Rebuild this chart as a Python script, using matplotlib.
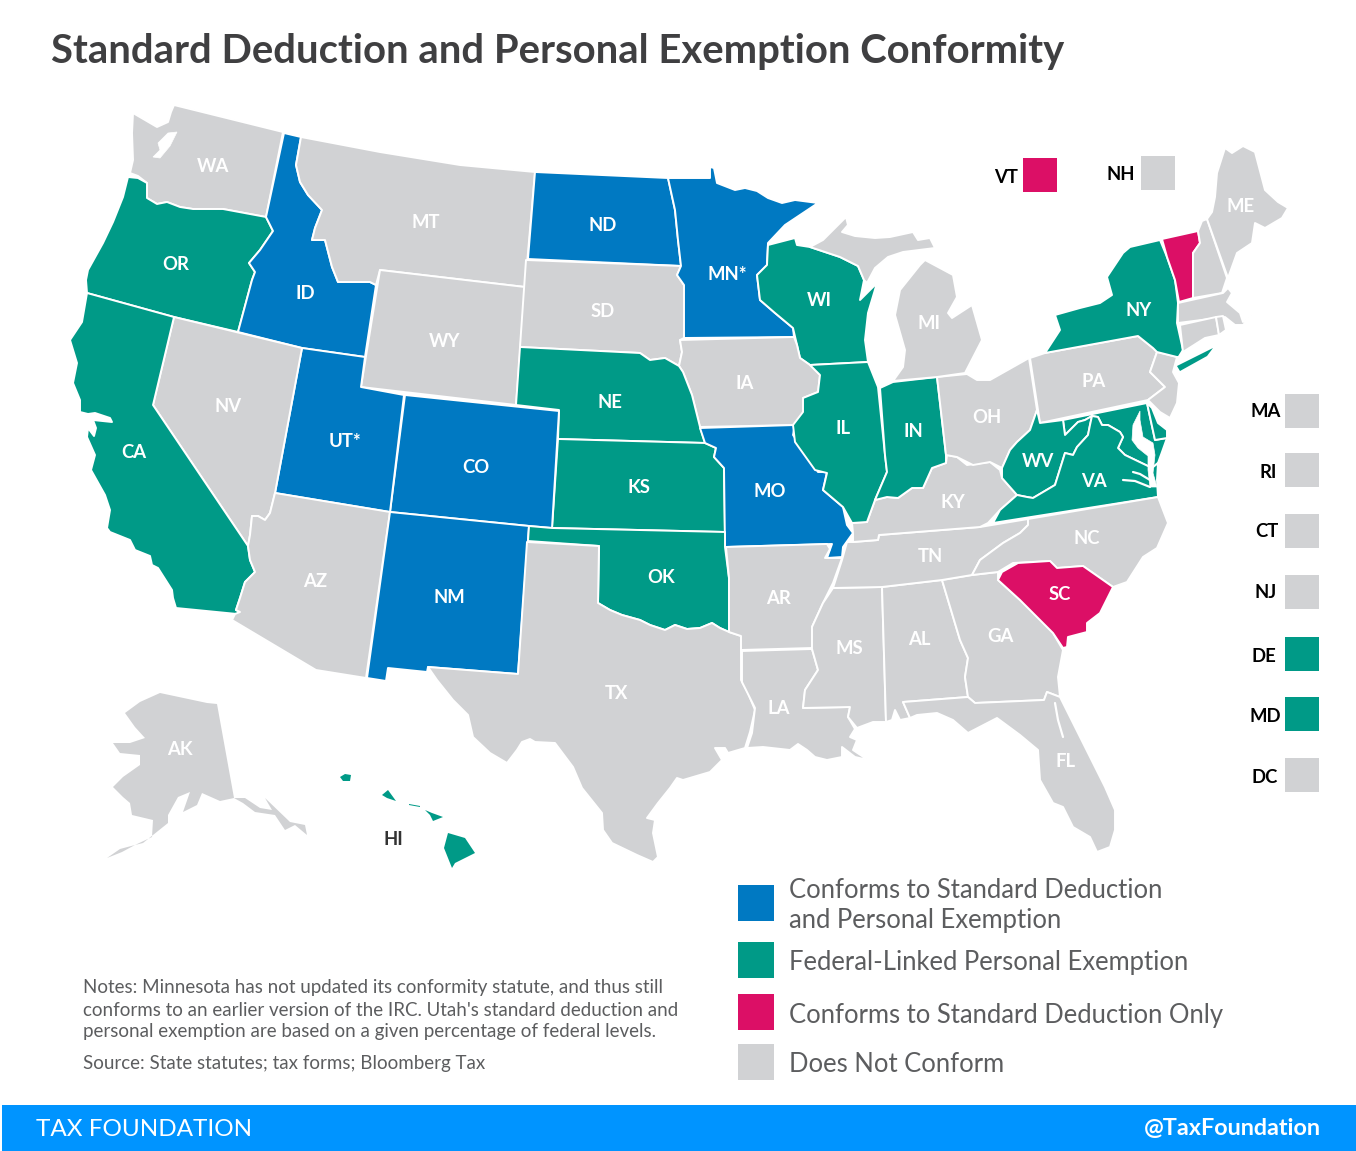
import matplotlib
matplotlib.use("Agg")
import matplotlib.pyplot as plt
from matplotlib.patches import Polygon, Rectangle

plt.rcParams['font.family'] = ['Lato', 'DejaVu Sans']

# ---- colours per category
BLUE = "#0079c2"; TEAL = "#009a87"; PINK = "#dc0f66"; GREY = "#d1d2d4"
TEXT = "#5c5d5f"; TITLE = "#3f3f41"; BANNER = "#0094ff"

# ---- categories
both_states = ["ID", "ND", "MN", "UT", "CO", "NM", "MO"]
personal_states = ["OR", "CA", "WI", "IL", "IN", "NE", "KS", "OK", "NY", "WV", "VA", "DE", "MD", "HI"]
standard_states = ["VT", "SC"]

# ---- state outlines (map pixels)
WA = [(174,105),(283,132),(266,217),(223,209),(193,209),(180,207),(167,202),(157,204),(147,198),(147,183),(138,176),(130,173),(133,160),(132,133),(133,113),(157,127),(168,122),(171,112)]
OR = [(128,177),(138,178),(147,183),(147,198),(157,204),(167,202),(180,207),(193,209),(223,209),(266,217),(273,231),(260,250),(249,263),(255,272),(252,280),(238,332),(174,317),(87,293),(86,280),(88,270),(103,243),(113,222),(123,197)]
ID = [(284,133),(301,137),(296,165),(300,182),(308,195),(322,210),(315,228),(312,240),(325,240),(332,267),(338,282),(370,282),(376,285),(365,357),(302,348),(238,332),(252,280),(255,272),(249,263),(260,250),(273,231),(266,217)]
MT = [(301,137),(380,152),(460,165),(535,172),(525,287),(380,270),(376,285),(370,282),(338,282),(332,267),(325,240),(312,240),(315,228),(322,210),(308,195),(300,182),(296,165)]
WY = [(380,270),(525,287),(516,405),(361,387)]
ND = [(535,172),(668,178),(675,210),(678,240),(681,266),(528,259)]
SD = [(526,260),(681,266),(677,275),(684,285),(684,338),(680,340),(682,352),(679,366),(665,358),(650,360),(640,353),(520,347)]
MN = [(668,178),(710,178),(710,167),(714,168),(717,183),(735,190),(745,188),(757,191),(768,198),(782,203),(795,200),(818,203),(800,215),(785,225),(768,243),(767,265),(757,275),(760,300),(775,313),(793,328),(794,337),(684,338),(684,285),(677,275),(681,266),(678,240),(675,210)]
WI = [(768,245),(795,238),(797,245),(810,247),(840,257),(858,266),(864,280),(860,300),(877,283),(868,313),(865,340),(868,362),(810,365),(800,358),(797,345),(793,328),(775,313),(760,300),(757,275),(767,265)]
IA = [(680,340),(794,337),(797,345),(800,358),(810,365),(820,375),(818,392),(803,398),(804,412),(795,425),(700,427),(692,395),(683,372),(679,366),(682,352)]
NE = [(520,347),(640,353),(650,360),(665,358),(679,366),(683,372),(692,395),(700,427),(705,443),(558,439),(559,410),(516,405)]
KS = [(558,439),(705,443),(716,448),(714,457),(724,468),(725,532),(552,528)]
MO = [(700,428),(795,425),(793,435),(810,458),(818,472),(827,472),(823,490),(843,507),(847,525),(853,533),(843,547),(842,557),(827,558),(832,544),(725,547),(724,468),(714,457),(716,448),(705,443)]
CO = [(405,395),(559,411),(552,528),(529,526),(390,512)]
UT = [(302,348),(365,357),(361,387),(404,395),(390,512),(275,493)]
NV = [(174,317),(302,348),(275,493),(270,513),(265,520),(258,516),(252,516),(250,535),(248,546),(153,405)]
CA = [(87,293),(174,317),(153,405),(248,546),(250,560),(255,572),(245,582),(240,598),(236,610),(240,612),(237,614),(176,608),(173,598),(172,590),(158,568),(152,565),(150,556),(135,550),(130,540),(110,532),(107,528),(110,510),(105,495),(91,470),(95,455),(87,437),(88,428),(94,436),(96,428),(93,420),(112,422),(110,418),(95,413),(88,414),(80,412),(80,400),(73,383),(77,363),(70,340),(82,322)]
AZ = [(275,493),(390,512),(366,678),(316,670),(232,620),(235,614),(240,612),(236,610),(240,598),(245,582),(255,572),(250,560),(248,546),(250,535),(252,516),(258,516),(265,520),(270,513)]
NM = [(390,512),(529,526),(518,674),(428,667),(427,672),(388,668),(386,681),(367,678)]
OK = [(529,526),(552,528),(725,532),(725,547),(729,578),(729,632),(720,628),(712,623),(700,628),(687,629),(675,625),(665,630),(650,625),(640,620),(622,615),(610,610),(598,603),(599,546),(528,541)]
TX = [(527,542),(599,546),(598,603),(610,610),(622,615),(640,620),(650,625),(665,630),(675,625),(687,629),(700,628),(712,623),(720,628),(729,632),(741,636),(741,680),(748,693),(755,710),(750,732),(745,748),(728,753),(725,748),(715,748),(722,760),(710,772),(683,780),(677,778),(670,788),(658,803),(647,818),(655,820),(653,833),(658,857),(653,862),(637,855),(612,843),(603,830),(602,813),(582,788),(573,767),(555,743),(535,742),(530,739),(522,742),(517,750),(507,763),(490,753),(473,737),(468,715),(453,700),(437,680),(428,667),(518,674)]
AR = [(726,547),(827,544),(830,549),(825,558),(842,558),(833,583),(823,603),(812,627),(812,648),(741,650),(741,636),(729,632),(729,578)]
LA = [(742,651),(812,649),(818,670),(805,690),(803,708),(850,707),(848,717),(855,729),(850,737),(857,740),(853,750),(868,760),(855,757),(842,747),(842,757),(827,760),(815,757),(807,750),(798,744),(790,750),(763,747),(747,748),(752,733),(755,708),(742,682)]
MS = [(833,588),(882,587),(886,722),(873,722),(857,728),(848,717),(850,707),(803,708),(805,690),(818,670),(812,649),(812,627),(823,603)]
AL = [(882,587),(942,580),(960,640),(968,658),(965,677),(968,697),(903,702),(910,718),(900,720),(895,710),(892,720),(886,722)]
GA = [(942,580),(972,575),(998,572),(998,580),(1020,600),(1037,617),(1053,633),(1063,650),(1058,677),(1060,697),(1047,692),(1044,700),(975,703),(968,697),(965,677),(968,658),(960,640)]
FL = [(903,702),(968,697),(975,703),(1044,700),(1047,692),(1060,697),(1083,743),(1105,787),(1115,810),(1115,830),(1110,847),(1097,852),(1090,837),(1073,827),(1063,807),(1053,803),(1040,780),(1038,750),(1020,735),(997,718),(968,733),(953,720),(937,713),(917,715),(910,718)]
TN = [(853,542),(878,540),(879,535),(980,527),(1028,519),(1028,525),(1020,533),(1003,543),(980,560),(972,575),(942,580),(882,587),(833,588),(842,560),(847,542)]
KY = [(947,455),(957,457),(967,465),(990,462),(1000,470),(1002,478),(1017,495),(1000,510),(988,523),(980,527),(879,535),(878,540),(853,542),(853,533),(852,523),(867,522),(875,500),(887,497),(898,498),(912,488),(923,488),(932,468),(946,463)]
IL = [(810,365),(868,362),(878,387),(885,455),(887,472),(875,500),(867,522),(852,523),(843,507),(823,490),(827,473),(815,470),(795,442),(793,425),(803,412),(803,398),(818,392),(820,375)]
IN = [(880,388),(893,382),(937,377),(946,455),(946,463),(932,468),(923,488),(912,488),(898,498),(887,497),(875,500),(887,472),(885,455)]
OH = [(937,377),(967,374),(977,380),(990,380),(1029,358),(1035,397),(1037,410),(1030,430),(1017,442),(1010,450),(1002,468),(990,462),(973,465),(957,457),(946,455)]
MI = [(905,350),(895,315),(900,290),(920,265),(925,260),(953,275),(957,297),(948,313),(952,318),(972,305),(982,340),(965,373),(937,377),(893,381),(903,367)]
MI_UPPER = [(810,247),(823,240),(838,225),(846,217),(848,225),(842,232),(855,236),(875,238),(890,237),(913,232),(918,240),(930,238),(935,248),(903,252),(888,257),(875,268),(867,283),(864,280),(858,266),(840,257)]
PA = [(1030,358),(1045,353),(1138,336),(1153,348),(1157,352),(1150,372),(1165,387),(1148,400),(1040,423)]
NJ = [(1157,352),(1177,357),(1173,372),(1179,383),(1177,403),(1170,418),(1160,412),(1148,400),(1165,387),(1150,372)]
NY = [(1130,247),(1160,240),(1167,257),(1175,280),(1178,303),(1177,323),(1183,350),(1178,358),(1177,357),(1157,352),(1153,348),(1138,336),(1045,353),(1060,330),(1055,315),(1080,308),(1100,303),(1112,295),(1107,277),(1123,253)]
LONG_ISLAND = [(1177,366),(1205,352),(1213,348),(1207,356),(1180,371)]
VT = [(1162,239),(1198,231),(1200,243),(1193,253),(1193,298),(1179,302),(1175,280),(1167,257)]
NH = [(1198,231),(1202,221),(1207,219),(1227,278),(1222,293),(1193,298),(1193,253),(1200,243)]
ME = [(1207,219),(1212,212),(1215,197),(1217,173),(1225,148),(1232,153),(1243,146),(1255,152),(1265,190),(1278,202),(1288,208),(1282,218),(1265,228),(1255,223),(1252,243),(1237,253),(1228,278)]
MA = [(1178,303),(1223,293),(1228,288),(1232,293),(1227,302),(1240,313),(1243,322),(1253,315),(1243,325),(1235,325),(1225,317),(1178,323)]
CT = [(1180,325),(1216,317),(1219,335),(1205,338),(1183,352)]
RI = [(1216,317),(1223,316),(1226,330),(1219,335)]
DE = [(1147,403),(1152,408),(1158,423),(1167,430),(1167,438),(1155,440)]
MD = [(1063,420),(1147,403),(1155,440),(1167,438),(1162,452),(1158,463),(1152,468),(1125,455),(1118,448),(1123,437),(1120,432),(1108,425),(1102,425),(1098,417),(1092,416),(1085,420),(1078,422),(1065,435)]
WV = [(1037,410),(1040,423),(1063,420),(1065,435),(1078,422),(1085,420),(1092,416),(1090,425),(1088,435),(1077,447),(1073,455),(1065,453),(1055,485),(1033,498),(1027,497),(1017,495),(1002,478),(1002,468),(1010,450),(1017,442),(1030,430)]
VA = [(1017,495),(1027,497),(1033,498),(1055,485),(1065,453),(1073,455),(1077,447),(1088,435),(1090,425),(1092,416),(1098,417),(1102,425),(1108,425),(1120,432),(1123,437),(1118,448),(1125,455),(1152,468),(1158,463),(1157,480),(1158,497),(993,523),(1000,510)]
NC = [(1028,519),(1158,497),(1168,523),(1157,548),(1143,557),(1127,582),(1113,587),(1083,566),(1057,568),(1050,561),(1013,563),(998,572),(972,575),(980,560),(1003,543),(1020,533),(1028,525)]
SC = [(998,580),(1002,572),(1018,563),(1050,561),(1057,568),(1083,566),(1113,587),(1105,603),(1100,613),(1087,623),(1087,632),(1068,637),(1067,647),(1063,648),(1053,633),(1037,617),(1020,600)]
AK = [(160,693),(207,703),(217,704),(234,798),(220,801),(202,793),(197,805),(183,812),(190,792),(178,797),(168,815),(168,823),(143,843),(135,845),(152,837),(153,820),(132,815),(130,803),(123,797),(113,787),(123,777),(140,765),(140,755),(120,753),(113,743),(130,743),(145,738),(135,727),(125,713),(140,702)]
AK_PANHANDLE = [(234,798),(245,798),(260,808),(272,810),(265,798),(290,822),(305,825),(307,835),(295,825),(285,830),(275,815),(255,812),(243,803)]
AK_TAIL = [(135,845),(122,852),(107,858),(120,849)]
HI_BIG = [(448,833),(465,838),(475,853),(455,863),(452,868),(444,848)]
HI_MAUI = [(425,810),(432,813),(443,817),(433,821),(430,815)]
HI_MOLOKAI = [(409,804),(420,806),(420,807),(409,805)]
HI_OAHU = [(382,795),(388,790),(396,801),(387,798)]
HI_KAUAI = [(340,777),(345,774),(351,775),(350,781),(343,781)]

outlines = dict(WA=[WA], OR=[OR], ID=[ID], MT=[MT], WY=[WY], ND=[ND], SD=[SD], MN=[MN], WI=[WI], IA=[IA], NE=[NE],
                KS=[KS], MO=[MO], CO=[CO], UT=[UT], NV=[NV], CA=[CA], AZ=[AZ], NM=[NM], OK=[OK], TX=[TX], AR=[AR],
                LA=[LA], MS=[MS], AL=[AL], GA=[GA], FL=[FL], TN=[TN], KY=[KY], IL=[IL], IN=[IN], OH=[OH],
                MI=[MI, MI_UPPER], PA=[PA], NJ=[NJ], NY=[NY], VT=[VT], NH=[NH], ME=[ME], MA=[MA],
                CT=[CT], RI=[RI], MD=[MD], DE=[DE], WV=[WV], VA=[VA], NC=[NC], SC=[SC])
# small shapes that would vanish under a white outline
bare_parts = {"AK": [AK, AK_PANHANDLE, AK_TAIL],
              "HI": [HI_BIG, HI_MAUI, HI_MOLOKAI, HI_OAHU, HI_KAUAI],
              "NY": [LONG_ISLAND]}

# water inside the outlines
puget_sound = [(177,132),(168,133),(158,143),(160,150),(153,157),(160,158),(170,146)]
chesapeake = [(1140,411),(1133,425),(1132,440),(1138,448),(1148,456),(1148,470),(1150,487),(1157,487),(1153,473),(1155,455),(1153,443),(1143,437),(1140,420)]
water_polys = [puget_sound, chesapeake]
water_lines = [[(1133,472),(1140,474),(1150,480)],
               [(1123,480),(1135,481),(1150,487)],
               [(1055,703),(1058,720),(1063,737)]]

# ---- on-map labels
map_labels = ["WA","OR","ID","MT","WY","ND","SD","MN*","WI","MI","IA","NE","KS","MO","CO","UT*","NV","CA","AZ","NM","OK","TX",
              "AR","LA","MS","AL","GA","FL","TN","KY","IL","IN","OH","PA","NY","ME","WV","VA","NC","SC","AK"]
map_label_x = [213,176,305,426,445,603,603,727,819,929,745,610,639,770,476,345,228,134,315,449,661,616,
               778,779,849,919,1000,1066,930,953,843,913,987,1094,1139,1241,1038,1094,1087,1060,180]
map_label_y = [166,264,293,222,341,225,311,274,300,323,383,402,487,491,467,441,406,452,581,597,577,693,
               598,708,648,639,636,761,556,502,428,431,417,381,310,206,461,481,538,594,749]

# ---- small-state boxes
box_states = ["VT","NH","MA","RI","CT","NJ","DE","MD","DC"]
box_x = [1023,1141,1285,1285,1285,1285,1285,1285,1285]
box_y = [158,156,394,453,514,575,637,697,758]
box_label_x = [1018,1135,1281,1277,1279,1277,1276,1281,1278]
box_label_dy = [19,18,17,19,17,17,19,19,19]

# ---- legend
legend_colors = [BLUE, TEAL, PINK, GREY]
legend_y = [885,942,994,1044]
legend_texts = ["Conforms to Standard Deduction\nand Personal Exemption", "Federal-Linked Personal Exemption",
                "Conforms to Standard Deduction Only", "Does Not Conform"]
legend_text_y = [905.5,962,1015,1064]

title = "Standard Deduction and Personal Exemption Conformity"
notes = ["Notes: Minnesota has not updated its conformity statute, and thus still",
         "conforms to an earlier version of the IRC. Utah's standard deduction and",
         "personal exemption are based on a given percentage of federal levels."]
notes_y = [987,1010,1032]
source = "Source: State statutes; tax forms; Bloomberg Tax"


def color_of(code):
    if code in both_states:
        return BLUE
    if code in personal_states:
        return TEAL
    if code in standard_states:
        return PINK
    return GREY


fig = plt.figure(figsize=(13.56, 11.51), dpi=100)
ax = fig.add_axes([0, 0, 1, 1])
ax.set_xlim(0, 1356)
ax.set_ylim(1151, 0)
ax.axis("off")

for code, parts in outlines.items():
    for part in parts:
        ax.add_patch(Polygon(part, closed=True, facecolor=color_of(code), edgecolor="white", linewidth=1.4, joinstyle="round"))
for code, parts in bare_parts.items():
    for part in parts:
        ax.add_patch(Polygon(part, closed=True, facecolor=color_of(code), edgecolor="none"))
for part in water_polys:
    ax.add_patch(Polygon(part, closed=True, facecolor="white", edgecolor="white", linewidth=0.5))
for line in water_lines:
    ax.plot([p[0] for p in line], [p[1] for p in line], color="white", lw=1.6, solid_capstyle="round")

for lab, x, y in zip(map_labels, map_label_x, map_label_y):
    ax.text(x, y, lab, color="white", fontsize=13.3, fontweight="bold", ha="center", va="center")
ax.text(393, 839, "HI", color="#333333", fontsize=13.3, fontweight="bold", ha="center", va="center")

for code, x, y, lx, dy in zip(box_states, box_x, box_y, box_label_x, box_label_dy):
    ax.add_patch(Rectangle((x, y), 33.5, 33.5, facecolor=color_of(code), edgecolor="none"))
    ax.text(lx, y + dy, code, color="black", fontsize=13.3, fontweight="bold", ha="right", va="center")

for c, y in zip(legend_colors, legend_y):
    ax.add_patch(Rectangle((738, y), 36, 36, facecolor=c, edgecolor="none"))
for t, y in zip(legend_texts, legend_text_y):
    ax.text(789, y, t, color=TEXT, fontsize=18.45, ha="left", va="center", linespacing=1.26)

ax.text(51, 51, title, color=TITLE, fontsize=28.8, fontweight="bold", ha="left", va="center")
for t, y in zip(notes, notes_y):
    ax.text(83, y, t, color=TEXT, fontsize=13.5, ha="left", va="center")
ax.text(83, 1063, source, color=TEXT, fontsize=13.5, ha="left", va="center")

ax.add_patch(Rectangle((2, 1105), 1354, 46, facecolor=BANNER, edgecolor="none"))
ax.text(36, 1129, "TAX FOUNDATION", color="white", fontsize=17.5, ha="left", va="center")
ax.text(1321, 1129, "@TaxFoundation", color="white", fontsize=16.8, fontweight="bold", ha="right", va="center")

fig.savefig("out.png", dpi=100, facecolor="white")
